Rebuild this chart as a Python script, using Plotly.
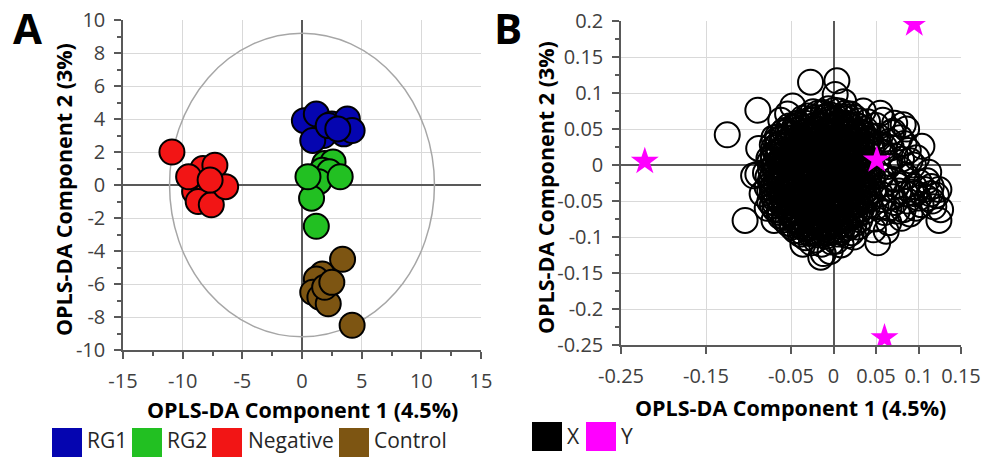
import plotly.graph_objects as go

# ---------------- Panel A: OPLS-DA scores ----------------
groups = ["RG1", "RG2", "Negative", "Control"]
group_colors = ["#0505b0", "#22c022", "#f21515", "#7d5512"]

rg1_x = [0.2, 1.2, 2.5, 3.8, 3.5, 1.8, 0.9, 2.2, 4.2, 3.0]
rg1_y = [3.9, 4.3, 3.7, 4.0, 3.1, 3.0, 2.7, 3.6, 3.3, 3.4]
rg2_x = [1.9, 2.6, 1.7, 2.3, 1.4, 0.8, 0.5, 3.2, 1.2]
rg2_y = [1.3, 1.4, 0.9, 0.8, 0.2, -0.8, 0.5, 0.5, -2.5]
neg_x = [-8.3, -7.3, -9.0, -8.0, -8.7, -7.6, -6.4, -9.5, -7.7, -10.9]
neg_y = [1.0, 1.2, -0.4, -0.6, -1.0, -1.2, -0.1, 0.5, 0.3, 2.0]
ctl_x = [1.7, 1.2, 0.9, 1.5, 2.2, 1.9, 3.4, 2.5, 4.2]
ctl_y = [-5.4, -5.7, -6.5, -6.8, -7.2, -6.2, -4.5, -5.9, -8.5]

score_x = [rg1_x, rg2_x, neg_x, ctl_x]
score_y = [rg1_y, rg2_y, neg_y, ctl_y]

# Hotelling T2 ellipse radii (panel A)
ell_rx, ell_ry = 11.1, 9.2

a_xticks = [-15, -10, -5, 0, 5, 10, 15]
a_yticks = [-10, -8, -6, -4, -2, 0, 2, 4, 6, 8, 10]

# ---------------- Panel B: loadings (X variables) ----------------
core1_x = [
    -0.006, 0.007,
    -0.030, -0.018, -0.005, 0.009, 0.020,
    -0.042, -0.029, -0.016, -0.004, 0.008, 0.019, 0.030,
    -0.058, -0.046, -0.033, -0.021, -0.010, 0.002, 0.013, 0.026, 0.037,
    -0.066, -0.052, -0.041, -0.029, -0.017, -0.006, 0.006, 0.017, 0.029, 0.041,
    -0.072, -0.060, -0.048, -0.036, -0.024, -0.013, -0.001, 0.011, 0.023, 0.034, 0.045,
    -0.064, -0.053, -0.042, -0.030, -0.019, -0.008, 0.004, 0.015, 0.027, 0.039,
    -0.076, -0.066, -0.055, -0.044, -0.033, -0.022, -0.011, 0.000, 0.012, 0.024, 0.036,
    -0.070, -0.059, -0.047, -0.036, -0.025, -0.014, -0.003, 0.008, 0.019, 0.031, 0.043,
    -0.080, -0.068, -0.057, -0.045, -0.034, -0.023, -0.012, -0.001, 0.010, 0.022, 0.034,
    -0.074, -0.062, -0.050, -0.039, -0.028, -0.017, -0.006, 0.005, 0.016, 0.028, 0.040,
    -0.078, -0.067, -0.055, -0.044, -0.033, -0.022, -0.011, 0.000, 0.011, 0.023, 0.035,
    -0.072, -0.061, -0.049, -0.038, -0.027, -0.016, -0.005, 0.006, 0.017, 0.029, 0.041,
    -0.075, -0.064, -0.052, -0.041, -0.030, -0.019, -0.008, 0.003, 0.014, 0.026, 0.038,
    -0.069, -0.058, -0.046, -0.035, -0.024, -0.013, -0.002, 0.009, 0.021, 0.033,
    -0.063, -0.051, -0.040, -0.029, -0.018, -0.007, 0.004, 0.016, 0.028,
    -0.054, -0.043, -0.032, -0.021, -0.010, 0.001, 0.012, 0.024,
    -0.045, -0.034, -0.023, -0.012, -0.001, 0.010, 0.021,
    -0.033, -0.021, -0.009, 0.003,
]
core1_y = [
    0.078, 0.075,
    0.068, 0.072, 0.070, 0.067, 0.071,
    0.058, 0.062, 0.057, 0.064, 0.059, 0.055, 0.061,
    0.048, 0.052, 0.047, 0.051, 0.046, 0.053, 0.049, 0.045, 0.050,
    0.039, 0.042, 0.037, 0.043, 0.038, 0.041, 0.036, 0.044, 0.039, 0.035,
    0.028, 0.031, 0.026, 0.032, 0.027, 0.030, 0.025, 0.033, 0.028, 0.031, 0.026,
    0.019, 0.017, 0.022, 0.018, 0.021, 0.016, 0.020, 0.017, 0.022, 0.018,
    0.009, 0.012, 0.007, 0.011, 0.008, 0.012, 0.006, 0.010, 0.008, 0.011, 0.007,
    -0.002, 0.001, -0.003, 0.002, -0.001, 0.003, -0.002, 0.001, -0.003, 0.002, -0.001,
    -0.011, -0.008, -0.012, -0.009, -0.013, -0.010, -0.007, -0.012, -0.009, -0.011, -0.008,
    -0.021, -0.018, -0.022, -0.019, -0.023, -0.020, -0.017, -0.022, -0.019, -0.021, -0.018,
    -0.031, -0.028, -0.032, -0.029, -0.033, -0.030, -0.027, -0.032, -0.029, -0.031, -0.028,
    -0.041, -0.038, -0.042, -0.039, -0.043, -0.040, -0.037, -0.042, -0.039, -0.041, -0.038,
    -0.051, -0.048, -0.052, -0.049, -0.053, -0.050, -0.047, -0.052, -0.049, -0.051, -0.048,
    -0.061, -0.058, -0.062, -0.059, -0.063, -0.060, -0.057, -0.062, -0.059, -0.061,
    -0.071, -0.068, -0.072, -0.069, -0.073, -0.070, -0.067, -0.072, -0.069,
    -0.081, -0.078, -0.082, -0.079, -0.083, -0.080, -0.077, -0.082,
    -0.091, -0.088, -0.092, -0.089, -0.093, -0.090, -0.094,
    -0.101, -0.104, -0.099, -0.106,
]
core2_x = [
    -0.024, -0.012, 0.001, 0.014,
    -0.036, -0.023, -0.010, 0.002, 0.014, 0.025,
    -0.052, -0.040, -0.027, -0.015, -0.004, 0.008, 0.020, 0.031,
    -0.060, -0.047, -0.035, -0.023, -0.011, 0.000, 0.012, 0.023, 0.035,
    -0.066, -0.054, -0.042, -0.030, -0.018, -0.007, 0.005, 0.017, 0.028, 0.040,
    -0.070, -0.058, -0.047, -0.035, -0.024, -0.013, -0.002, 0.009, 0.021, 0.033, 0.044,
    -0.071, -0.060, -0.048, -0.037, -0.026, -0.015, -0.003, 0.009, 0.020, 0.031, 0.042,
    -0.075, -0.064, -0.053, -0.041, -0.030, -0.019, -0.008, 0.003, 0.014, 0.025, 0.037,
    -0.074, -0.062, -0.051, -0.040, -0.029, -0.018, -0.007, 0.004, 0.016, 0.028, 0.040,
    -0.077, -0.066, -0.055, -0.044, -0.033, -0.022, -0.011, 0.000, 0.011, 0.022, 0.034, 0.046,
    -0.073, -0.061, -0.050, -0.039, -0.028, -0.017, -0.006, 0.005, 0.017, 0.029, 0.041,
    -0.075, -0.064, -0.053, -0.042, -0.031, -0.020, -0.009, 0.002, 0.013, 0.024, 0.036, 0.047,
    -0.070, -0.059, -0.048, -0.037, -0.026, -0.015, -0.004, 0.007, 0.019, 0.031, 0.043,
    -0.072, -0.061, -0.050, -0.039, -0.028, -0.017, -0.006, 0.005, 0.016, 0.028, 0.040,
    -0.064, -0.053, -0.042, -0.031, -0.020, -0.009, 0.002, 0.013, 0.025, 0.036,
    -0.058, -0.047, -0.036, -0.025, -0.014, -0.003, 0.008, 0.020, 0.031,
    -0.049, -0.038, -0.027, -0.016, -0.005, 0.006, 0.017, 0.028,
    -0.039, -0.028, -0.017, -0.006, 0.006, 0.016,
    -0.026, -0.014, -0.002, 0.009,
]
core2_y = [
    0.074, 0.073, 0.076, 0.072,
    0.065, 0.063, 0.066, 0.062, 0.064, 0.066,
    0.054, 0.056, 0.053, 0.055, 0.052, 0.056, 0.054, 0.053,
    0.045, 0.043, 0.046, 0.044, 0.047, 0.043, 0.045, 0.046, 0.044,
    0.035, 0.033, 0.036, 0.034, 0.037, 0.033, 0.035, 0.036, 0.034, 0.033,
    0.024, 0.026, 0.023, 0.025, 0.022, 0.026, 0.024, 0.023, 0.025, 0.024, 0.022,
    0.014, 0.013, 0.015, 0.014, 0.016, 0.013, 0.015, 0.014, 0.013, 0.015, 0.014,
    0.004, 0.005, 0.003, 0.006, 0.004, 0.005, 0.003, 0.006, 0.004, 0.005, 0.003,
    -0.006, -0.005, -0.007, -0.004, -0.006, -0.005, -0.007, -0.004, -0.006, -0.005, -0.007,
    -0.016, -0.015, -0.017, -0.014, -0.016, -0.015, -0.017, -0.014, -0.016, -0.015, -0.017, -0.015,
    -0.026, -0.025, -0.027, -0.024, -0.026, -0.025, -0.027, -0.024, -0.026, -0.025, -0.027,
    -0.036, -0.035, -0.037, -0.034, -0.036, -0.035, -0.037, -0.034, -0.036, -0.035, -0.037, -0.036,
    -0.046, -0.045, -0.047, -0.044, -0.046, -0.045, -0.047, -0.044, -0.046, -0.045, -0.047,
    -0.056, -0.055, -0.057, -0.054, -0.056, -0.055, -0.057, -0.054, -0.056, -0.055, -0.057,
    -0.066, -0.065, -0.067, -0.064, -0.066, -0.065, -0.067, -0.064, -0.066, -0.065,
    -0.076, -0.075, -0.077, -0.074, -0.076, -0.075, -0.077, -0.074, -0.076,
    -0.086, -0.085, -0.087, -0.084, -0.086, -0.085, -0.087, -0.086,
    -0.096, -0.095, -0.097, -0.094, -0.096, -0.098,
    -0.108, -0.110, -0.107, -0.111,
]
core3_x = [
    -0.021, -0.008, 0.004, 0.016,
    -0.044, -0.033, -0.021, -0.009, 0.003, 0.015, 0.026,
    -0.054, -0.043, -0.031, -0.019, -0.007, 0.005, 0.017, 0.030,
    -0.061, -0.050, -0.038, -0.026, -0.014, -0.002, 0.010, 0.022, 0.034,
    -0.066, -0.055, -0.043, -0.031, -0.020, -0.008, 0.003, 0.015, 0.027, 0.039,
    -0.068, -0.057, -0.045, -0.034, -0.023, -0.012, -0.001, 0.011, 0.023, 0.035,
    -0.071, -0.060, -0.049, -0.038, -0.027, -0.016, -0.005, 0.006, 0.017, 0.029, 0.040,
    -0.066, -0.055, -0.044, -0.033, -0.022, -0.011, 0.000, 0.011, 0.022, 0.034,
    -0.071, -0.060, -0.049, -0.038, -0.027, -0.016, -0.005, 0.006, 0.017, 0.029, 0.041,
    -0.068, -0.057, -0.046, -0.035, -0.024, -0.013, -0.002, 0.009, 0.021, 0.033,
    -0.072, -0.061, -0.050, -0.039, -0.028, -0.017, -0.006, 0.005, 0.016, 0.028, 0.040,
    -0.067, -0.056, -0.045, -0.034, -0.023, -0.012, -0.001, 0.010, 0.022, 0.034,
    -0.069, -0.058, -0.047, -0.036, -0.025, -0.014, -0.003, 0.008, 0.020, 0.032,
    -0.063, -0.052, -0.041, -0.030, -0.019, -0.008, 0.003, 0.014, 0.026,
    -0.057, -0.046, -0.035, -0.024, -0.013, -0.002, 0.009, 0.021,
    -0.048, -0.037, -0.026, -0.015, -0.004, 0.007, 0.018,
    -0.037, -0.026, -0.015, -0.004, 0.008,
]
core3_y = [
    0.066, 0.068, 0.065, 0.067,
    0.057, 0.058, 0.056, 0.059, 0.057, 0.058, 0.056,
    0.047, 0.048, 0.046, 0.049, 0.047, 0.048, 0.046, 0.047,
    0.037, 0.038, 0.036, 0.039, 0.037, 0.038, 0.036, 0.037, 0.038,
    0.027, 0.028, 0.026, 0.029, 0.027, 0.028, 0.026, 0.027, 0.028, 0.026,
    0.017, 0.018, 0.016, 0.019, 0.017, 0.018, 0.016, 0.017, 0.018, 0.016,
    0.007, 0.008, 0.006, 0.009, 0.007, 0.008, 0.006, 0.007, 0.008, 0.006, 0.007,
    -0.003, -0.002, -0.004, -0.001, -0.003, -0.002, -0.004, -0.001, -0.003, -0.002,
    -0.013, -0.012, -0.014, -0.011, -0.013, -0.012, -0.014, -0.011, -0.013, -0.012, -0.014,
    -0.023, -0.022, -0.024, -0.021, -0.023, -0.022, -0.024, -0.021, -0.023, -0.022,
    -0.033, -0.032, -0.034, -0.031, -0.033, -0.032, -0.034, -0.031, -0.033, -0.032, -0.034,
    -0.043, -0.042, -0.044, -0.041, -0.043, -0.042, -0.044, -0.041, -0.043, -0.042,
    -0.053, -0.052, -0.054, -0.051, -0.053, -0.052, -0.054, -0.051, -0.053, -0.052,
    -0.063, -0.062, -0.064, -0.061, -0.063, -0.062, -0.064, -0.061, -0.063,
    -0.073, -0.072, -0.074, -0.071, -0.073, -0.072, -0.074, -0.071,
    -0.083, -0.082, -0.084, -0.081, -0.083, -0.082, -0.084,
    -0.093, -0.092, -0.094, -0.091, -0.093,
]
right_x = [
    0.052, 0.066, 0.058, 0.073, 0.088, 0.064, 0.079, 0.094, 0.056, 0.071, 0.086, 0.101,
    0.115, 0.062, 0.077, 0.092, 0.107, 0.121, 0.057, 0.072, 0.087, 0.103, 0.118, 0.060,
    0.075, 0.090, 0.049, 0.065, 0.080, 0.047, 0.062, 0.050, 0.070, 0.060,
    0.053, 0.068, 0.083, 0.098, 0.112, 0.060, 0.075, 0.095, 0.110, 0.124, 0.055, 0.070,
    0.085, 0.100, 0.116, 0.050, 0.065, 0.082, 0.097, 0.078, 0.058, 0.072, 0.086, 0.066, 0.080,
]
right_y = [
    0.040, 0.033, 0.018, 0.012, 0.020, -0.002, -0.006, 0.000, -0.015, -0.020, -0.016, -0.024,
    -0.030, -0.032, -0.036, -0.038, -0.034, -0.042, -0.048, -0.052, -0.050, -0.055, -0.058, -0.066,
    -0.064, -0.068, -0.075, -0.080, -0.074, -0.090, -0.092, 0.055, 0.047, 0.025,
    0.028, 0.024, 0.030, 0.010, -0.010, -0.026, -0.028, -0.030, -0.022, -0.034, -0.040, -0.044,
    -0.040, -0.046, -0.050, -0.058, -0.060, -0.062, -0.060, 0.038, 0.062, 0.058, 0.050, 0.002, 0.008,
]
outer_x = [
    -0.125, -0.089, -0.027, 0.004, 0.082, 0.104, -0.104, 0.124, 0.052, -0.012, -0.089,
    -0.062, 0.114, 0.096, 0.055, 0.090, -0.054, -0.070, -0.088, -0.094, -0.070, -0.015,
    -0.004, 0.002, 0.012, 0.035, 0.068, 0.110, 0.126, -0.084, -0.078, -0.048, -0.036,
    0.024, 0.040,
]
outer_y = [
    0.042, 0.076, 0.115, 0.117, 0.056, 0.026, -0.077, -0.077, -0.108, -0.123, -0.013,
    0.062, -0.040, -0.040, 0.072, 0.006, 0.071, 0.038, 0.023, -0.015, -0.077, -0.128,
    -0.120, 0.098, 0.088, 0.075, 0.045, -0.046, -0.062, -0.040, -0.060, 0.082, -0.110,
    -0.100, 0.060,
]
load_x = core1_x + core2_x + core3_x + right_x + outer_x
load_y = core1_y + core2_y + core3_y + right_y + outer_y

# Y (response) loadings
resp_x = [-0.222, 0.051, 0.095, 0.060]
resp_y = [0.005, 0.007, 0.196, -0.240]

b_legend = ["X", "Y"]
b_colors = ["#000000", "#ff00ff"]

b_xticks = [-0.25, -0.15, -0.05, 0, 0.05, 0.1, 0.15]
b_xtext = ["-0.25", "-0.15", "-0.05", "0", "0.05", "0.1", "0.15"]
b_yticks = [-0.25, -0.2, -0.15, -0.1, -0.05, 0, 0.05, 0.1, 0.15, 0.2]
b_ytext = ["-0.25", "-0.2", "-0.15", "-0.1", "-0.05", "0", "0.05", "0.1", "0.15", "0.2"]

axis_title_x = "OPLS-DA Component 1 (4.5%)"
axis_title_y = "OPLS-DA Component 2 (3%)"

# ---------------- figure ----------------
W, H = 983, 457
FONT = "Open Sans"
fig = go.Figure()

for name, col, xs, ys in zip(groups, group_colors, score_x, score_y):
    fig.add_trace(go.Scatter(
        x=xs, y=ys, mode="markers", name=name, showlegend=False,
        marker=dict(size=25, color=col, line=dict(color="#000000", width=2)),
        xaxis="x", yaxis="y"))

fig.add_trace(go.Scatter(
    x=load_x, y=load_y, mode="markers", name=b_legend[0], showlegend=False,
    marker=dict(symbol="circle-open", size=25, color=b_colors[0], line=dict(width=2)),
    xaxis="x2", yaxis="y2"))
fig.add_trace(go.Scatter(
    x=resp_x, y=resp_y, mode="markers", name=b_legend[1], showlegend=False,
    marker=dict(symbol="star", size=21, color=b_colors[1], line=dict(width=0)),
    xaxis="x2", yaxis="y2"))


def px_x(p):
    return p / W


def px_y(p):
    return (H - p) / H


axis_common = dict(
    showline=True, linecolor="#595959", linewidth=1.5,
    ticks="outside", ticklen=7, tickwidth=1.5, tickcolor="#595959",
    showgrid=True, gridcolor="#d9d9d9", gridwidth=1,
    zeroline=True, zerolinecolor="#595959", zerolinewidth=1.5,
    tickfont=dict(family=FONT, size=20, color="#404040"),
    automargin=False, fixedrange=True, mirror=False,
)

fig.update_layout(
    width=W, height=H, margin=dict(l=0, r=0, t=0, b=0),
    paper_bgcolor="white", plot_bgcolor="white",
    font=dict(family=FONT, color="#000000"),
    showlegend=False,
    xaxis=dict(axis_common, domain=[px_x(123), px_x(481)], range=[-15, 15],
               tickmode="array", tickvals=a_xticks,
               ticktext=[str(v) for v in a_xticks], anchor="y",
               ticklabelstandoff=5,
               minor=dict(tickmode="linear", tick0=0, dtick=2.5, ticklen=4,
                          tickcolor="#595959", tickwidth=1.5, showgrid=False)),
    yaxis=dict(axis_common, domain=[px_y(350), px_y(20)], range=[-10, 10],
               tickmode="array", tickvals=a_yticks,
               ticktext=[str(v) for v in a_yticks], anchor="x",
               ticklabelstandoff=5,
               minor=dict(tickmode="linear", tick0=0, dtick=1, ticklen=4,
                          tickcolor="#595959", tickwidth=1.5, showgrid=False)),
    xaxis2=dict(axis_common, domain=[px_x(621), px_x(961)], range=[-0.25, 0.15],
                tickmode="array", tickvals=b_xticks, ticktext=b_xtext, anchor="y2",
                ticklabelstandoff=5),
    yaxis2=dict(axis_common, domain=[px_y(345), px_y(21)], range=[-0.25, 0.2],
                tickmode="array", tickvals=b_yticks, ticktext=b_ytext, anchor="x2",
                ticklabelstandoff=5,
                minor=dict(tickmode="linear", tick0=0, dtick=0.025, ticklen=4,
                           tickcolor="#595959", tickwidth=1.5, showgrid=False)),
)

shapes = [dict(type="circle", xref="x", yref="y", x0=-ell_rx, x1=ell_rx,
               y0=-ell_ry, y1=ell_ry, line=dict(color="#a6a6a6", width=1.5),
               layer="between")]

annotations = []
title_font = dict(family=FONT, size=21.5, color="#000000", weight="bold")
annotations += [
    dict(text=axis_title_x, x=px_x(302), y=px_y(409), xref="paper", yref="paper",
         showarrow=False, xanchor="center", yanchor="middle", font=title_font),
    dict(text=axis_title_x, x=px_x(790), y=px_y(407), xref="paper", yref="paper",
         showarrow=False, xanchor="center", yanchor="middle", font=title_font),
    dict(text=axis_title_y, x=px_x(63), y=px_y(190), xref="paper", yref="paper",
         showarrow=False, xanchor="center", yanchor="middle", textangle=-90, font=title_font),
    dict(text=axis_title_y, x=px_x(545), y=px_y(188), xref="paper", yref="paper",
         showarrow=False, xanchor="center", yanchor="middle", textangle=-90, font=title_font),
    dict(text="A", x=px_x(27), y=px_y(28), xref="paper", yref="paper",
         showarrow=False, xanchor="center", yanchor="middle",
         font=dict(family=FONT, size=42, color="#000000", weight="bold")),
    dict(text="B", x=px_x(508), y=px_y(28), xref="paper", yref="paper",
         showarrow=False, xanchor="center", yanchor="middle",
         font=dict(family=FONT, size=42, color="#000000", weight="bold")),
]

# legend boxes (panel A)
leg_a_box = [52, 132, 212, 339]
leg_a_txt = [85, 165, 246, 372]
for name, col, bx, tx in zip(groups, group_colors, leg_a_box, leg_a_txt):
    shapes.append(dict(type="rect", xref="paper", yref="paper",
                       x0=px_x(bx), x1=px_x(bx + 30), y0=px_y(459), y1=px_y(428),
                       fillcolor=col, line=dict(width=0)))
    annotations.append(dict(text=name, x=px_x(tx), y=px_y(440), xref="paper", yref="paper",
                            showarrow=False, xanchor="left", yanchor="middle",
                            font=dict(family=FONT, size=21, color="#262626")))
# legend boxes (panel B)
leg_b_box = [532, 586]
leg_b_txt = [565, 619]
for name, col, bx, tx in zip(b_legend, b_colors, leg_b_box, leg_b_txt):
    shapes.append(dict(type="rect", xref="paper", yref="paper",
                       x0=px_x(bx), x1=px_x(bx + 30), y0=px_y(451), y1=px_y(422),
                       fillcolor=col, line=dict(width=0)))
    annotations.append(dict(text=name, x=px_x(tx), y=px_y(436), xref="paper", yref="paper",
                            showarrow=False, xanchor="left", yanchor="middle",
                            font=dict(family=FONT, size=21, color="#262626")))

fig.update_layout(shapes=shapes, annotations=annotations)
fig.write_html("out.html")
